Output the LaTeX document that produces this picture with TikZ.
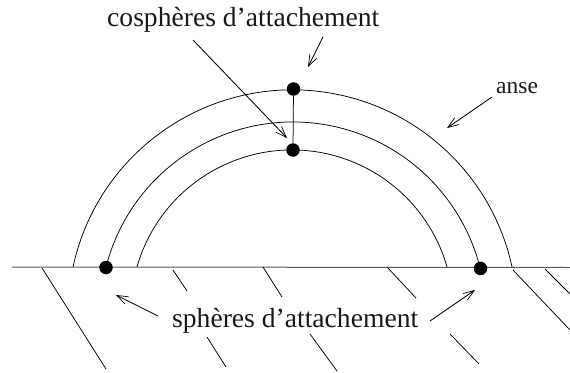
\documentclass[tikz,border=0pt]{standalone}
\usepackage{fontspec}
\setmainfont{Liberation Serif}
\usetikzlibrary{arrows.meta}
\tikzset{
  x=1pt,y=-1pt,
  dot/.style={circle,fill=black,draw=none,minimum size=13.5pt,inner sep=0pt},
  biglabel/.style={anchor=base west,inner sep=0pt,font=\fontsize{27.6}{30}\selectfont,text=black!90},
  smalllabel/.style={anchor=base west,inner sep=0pt,font=\fontsize{23.5}{26}\selectfont,text=black!90},
  ptr/.style={line width=0.85pt,-{Straight Barb[length=11pt,width=8pt,line width=0.7pt]}},
  arcline/.style={line width=0.75pt},
  hatch/.style={line width=0.75pt},
  ground/.style={line width=1pt,black!65}
}
\begin{document}
\begin{tikzpicture}
\useasboundingbox (0,0) rectangle (570,372);
% ground
\coordinate (gl) at (12,267);
\coordinate (gr) at (570,267.5);
\draw[ground] (gl) -- (gr);
% hatching
\draw[hatch] (42,268) -- (106,369);
\draw[hatch] (173,270) -- (187,291);
\draw[hatch] (263,267) -- (282,297);
\draw[hatch] (207,337) -- (226,367);
\draw[hatch] (387,267) -- (416,298);
\draw[hatch] (310,334) -- (337,371);
\draw[hatch] (450,334) -- (479,364);
\draw[hatch] (513,270) -- (570,330);
\draw[hatch] (545,269) -- (570,294);
% arcs
\draw[arcline] (73,267) arc[start angle=192.2,end angle=347.8,radius=224.6];
\draw[arcline] (106,267) arc[start angle=194.4,end angle=345.6,radius=193];
\draw[arcline] (137,267) arc[start angle=195.9,end angle=344.1,radius=161.2];
% dots
\node[dot] (top) at (293.5,89) {};
\node[dot] (low) at (293,150) {};
\node[dot] (left) at (106,267.5) {};
\node[dot] (right) at (480.5,268.5) {};
\draw[arcline] (top) -- (low);
% labels
\node[biglabel] (cos) at (107,27) {cosphères d’attachement};
\node[biglabel] (sph) at (172,327) {sphères d’attachement};
\node[smalllabel] (anse) at (496,93) {anse};
% arrows
\coordinate (a1s) at (193,40); \coordinate (a1e) at (287,138);
\coordinate (a2s) at (323,37); \coordinate (a2e) at (308,67);
\coordinate (a3s) at (492,97); \coordinate (a3e) at (447,128);
\coordinate (a4s) at (158,316); \coordinate (a4e) at (116,295);
\coordinate (a5s) at (430,321); \coordinate (a5e) at (475,290);
\draw[ptr] (a1s) -- (a1e);
\draw[ptr] (a2s) -- (a2e);
\draw[ptr] (a3s) -- (a3e);
\draw[ptr] (a4s) -- (a4e);
\draw[ptr] (a5s) -- (a5e);
\end{tikzpicture}
\end{document}
